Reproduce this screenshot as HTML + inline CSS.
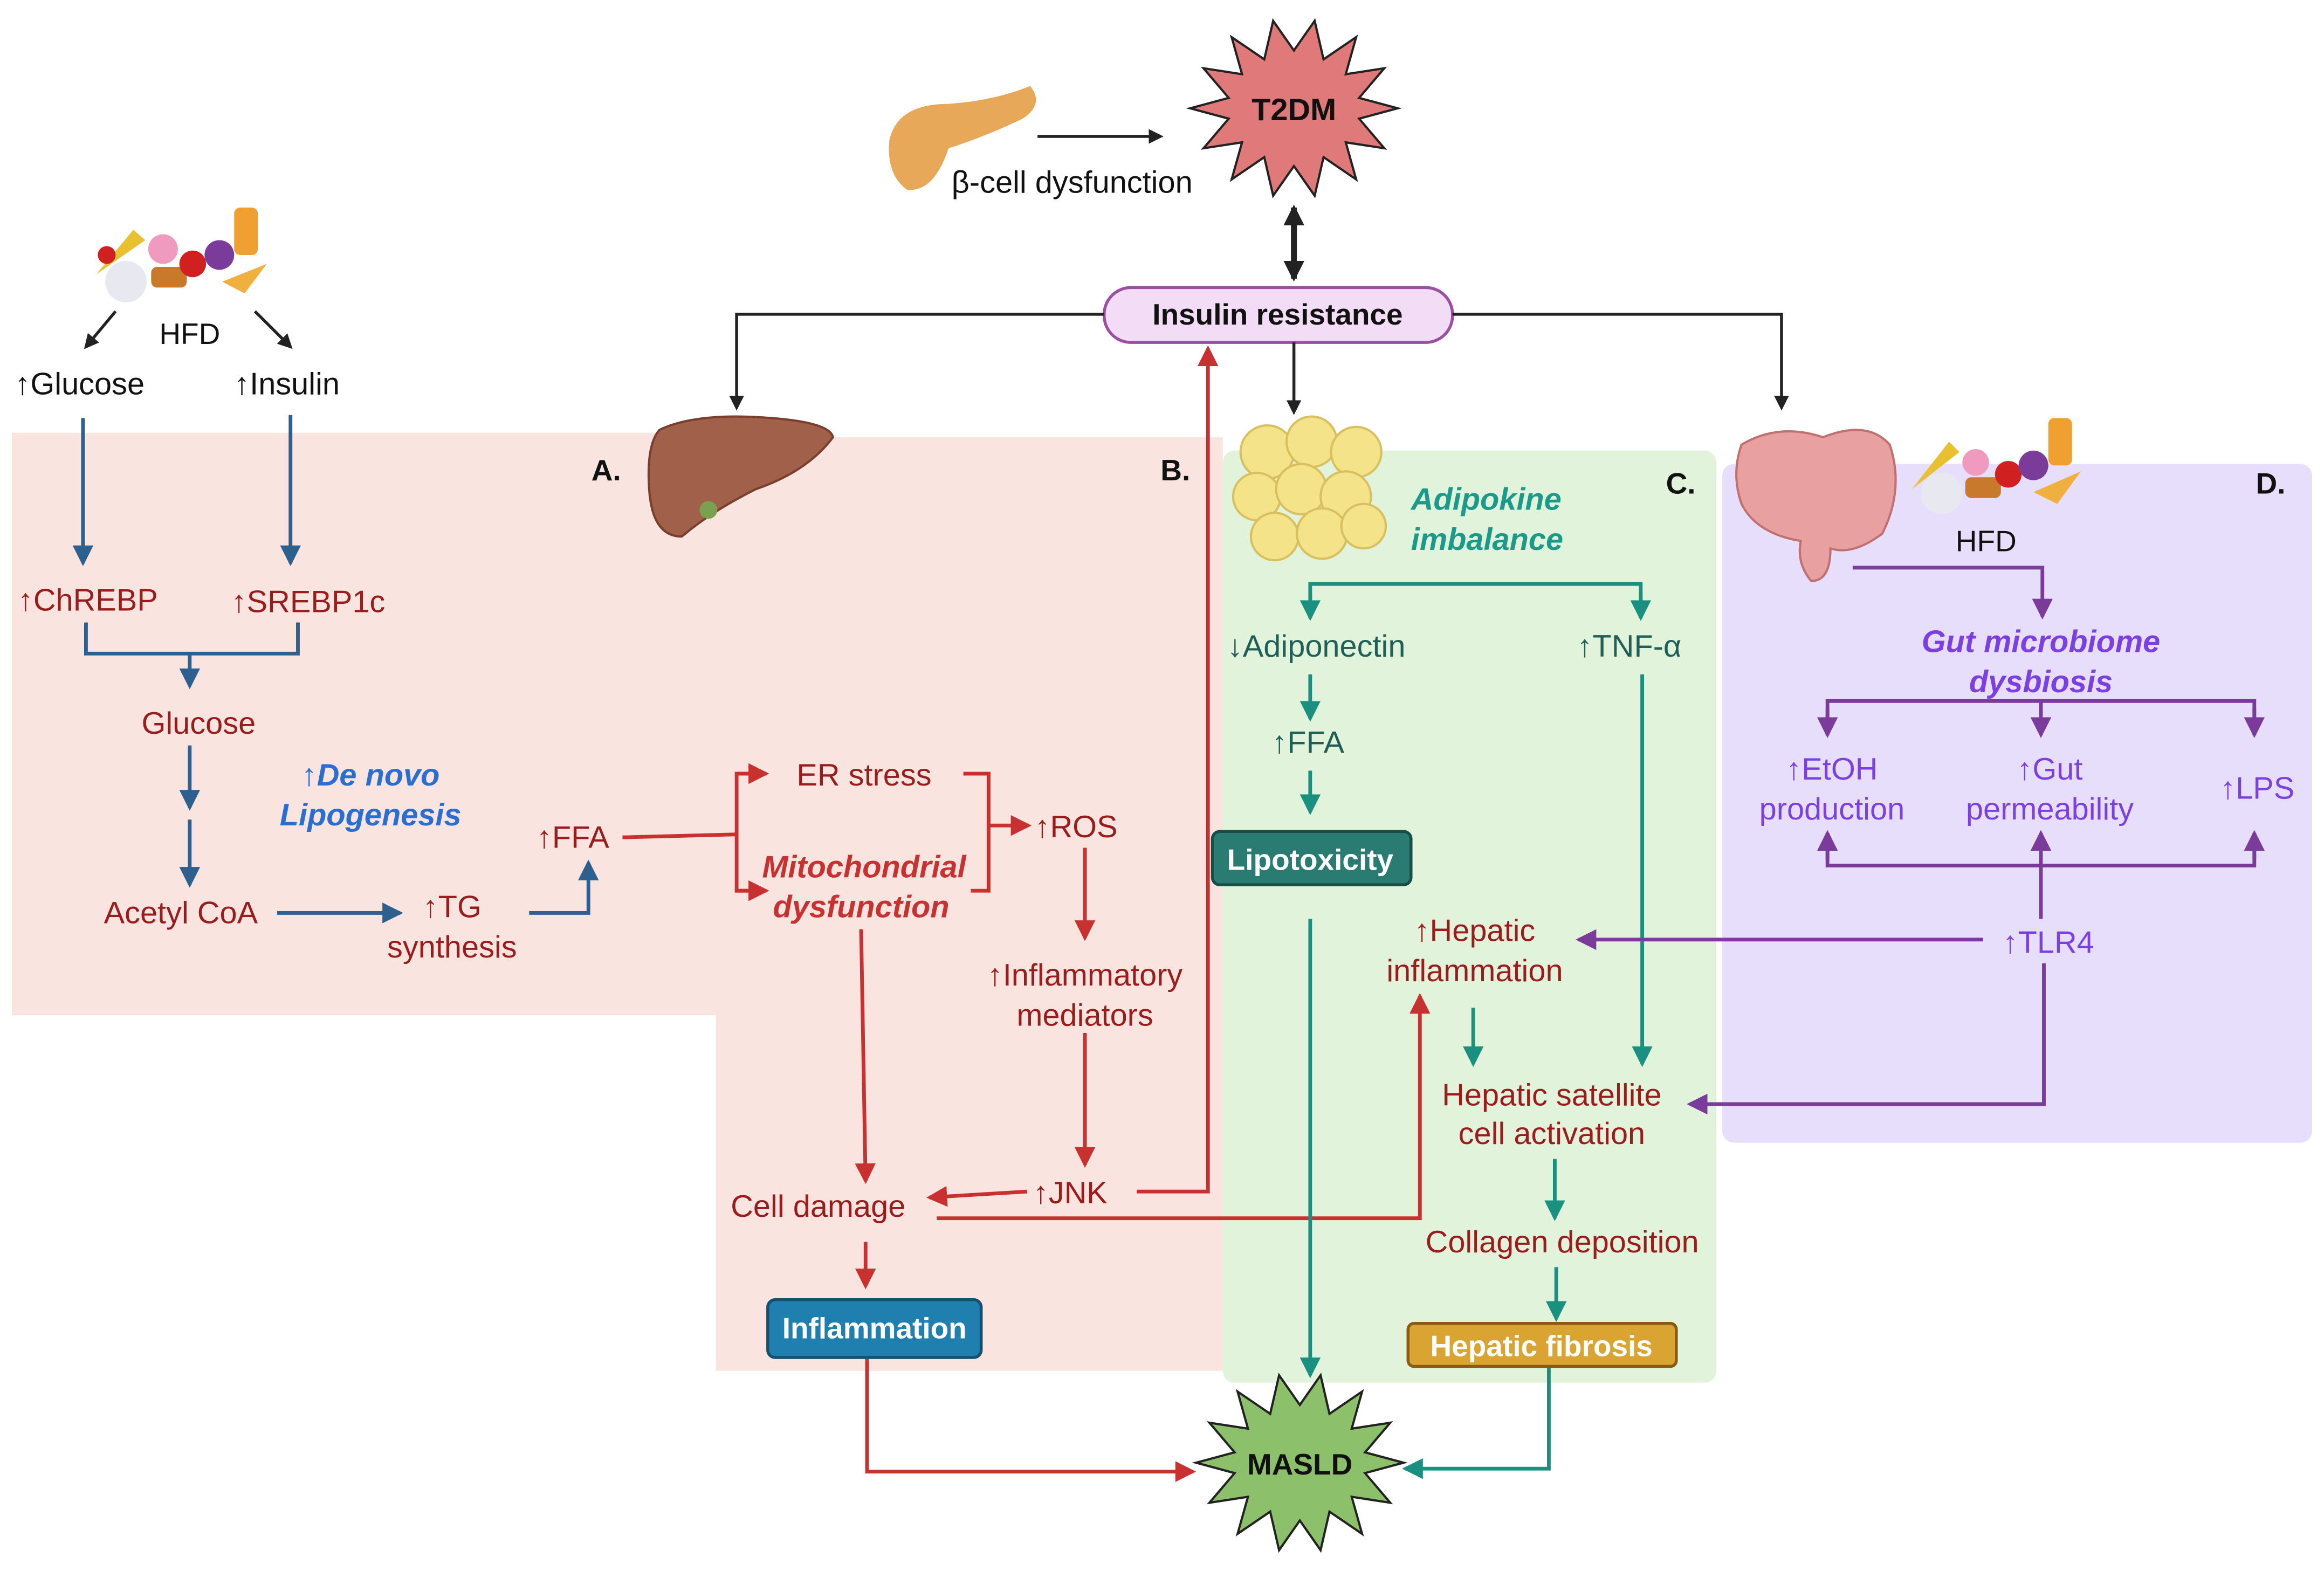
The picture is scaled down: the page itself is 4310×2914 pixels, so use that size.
<!DOCTYPE html>
<html><head><meta charset="utf-8"><style>
html,body{margin:0;padding:0;background:#fff;}
svg{display:block;}
text{font-family:"Liberation Sans",sans-serif;}
</style></head><body>
<svg width="4310" height="2914" viewBox="0 0 1568 1060" xmlns="http://www.w3.org/2000/svg">
<defs>
<marker id="ak" markerWidth="10" markerHeight="10" refX="8" refY="5" orient="auto" markerUnits="userSpaceOnUse"><path d="M0,0 L10,5 L0,10 z" fill="#222"/></marker>
<marker id="ab" markerWidth="14" markerHeight="14" refX="12" refY="7" orient="auto" markerUnits="userSpaceOnUse"><path d="M0,0 L14,7 L0,14 z" fill="#2d5f8f"/></marker>
<marker id="ar" markerWidth="14" markerHeight="14" refX="12" refY="7" orient="auto" markerUnits="userSpaceOnUse"><path d="M0,0 L14,7 L0,14 z" fill="#c93030"/></marker>
<marker id="at" markerWidth="14" markerHeight="14" refX="12" refY="7" orient="auto" markerUnits="userSpaceOnUse"><path d="M0,0 L14,7 L0,14 z" fill="#1a9080"/></marker>
<marker id="ap" markerWidth="14" markerHeight="14" refX="12" refY="7" orient="auto" markerUnits="userSpaceOnUse"><path d="M0,0 L14,7 L0,14 z" fill="#7a3b9a"/></marker>
<marker id="aK" markerWidth="14" markerHeight="14" refX="12" refY="7" orient="auto-start-reverse" markerUnits="userSpaceOnUse"><path d="M0,0 L14,7 L0,14 z" fill="#222"/></marker>
</defs>
<rect width="1568" height="1060" fill="#fff"/>
<!-- panels -->
<rect x="8" y="292" width="476" height="393" fill="#f9e4df"/>
<rect x="483" y="295" width="342" height="630" fill="#f9e4df"/>
<rect x="825" y="304" width="333" height="629" rx="8" fill="#e2f3dc"/>
<rect x="1162" y="313" width="398" height="458" rx="8" fill="#e6defa"/>
<g font-weight="bold" font-size="20" fill="#111">
<text x="399" y="324">A.</text><text x="783" y="324">B.</text><text x="1124" y="333">C.</text><text x="1522" y="333">D.</text>
</g>
<!-- T2DM star -->
<polygon fill="#e07a7a" stroke="#222" stroke-width="1.5" points="
943,73 917,80 934,100 908,96 915,121 893,106 887,132 873,112 859,132 853,106 831,121 838,96 812,100 829,80 803,73 829,66 812,46 838,50 831,25 853,40 859,14 873,34 887,14 893,40 915,25 908,50 934,46 917,66"/>
<text x="873" y="81" font-size="21" font-weight="bold" text-anchor="middle" fill="#111">T2DM</text>
<!-- MASLD star -->
<polygon fill="#8cc06b" stroke="#222" stroke-width="1.5" points="
947,987 921,994 938,1014 912,1010 919,1035 897,1020 891,1046 877,1026 863,1046 857,1020 835,1035 842,1010 816,1014 833,994 807,987 833,980 816,960 842,964 835,939 857,954 863,928 877,948 891,928 897,954 919,939 912,964 938,960 921,980"/>
<text x="877" y="995" font-size="20" font-weight="bold" text-anchor="middle" fill="#111">MASLD</text>
<!-- pancreas -->
<path d="M600,95 Q605,70 640,70 Q670,68 695,58 Q705,70 690,80 Q665,92 640,100 Q630,130 612,128 Q598,118 600,95z" fill="#e8a85a"/>
<line x1="700" y1="92" x2="783" y2="92" stroke="#222" stroke-width="2" marker-end="url(#ak)"/>
<text x="642" y="130" font-size="21" fill="#111">β-cell dysfunction</text>
<line x1="873" y1="140" x2="873" y2="188" stroke="#222" stroke-width="4" marker-start="url(#aK)" marker-end="url(#aK)"/>
<!-- insulin resistance -->
<rect x="745" y="194" width="235" height="37" rx="18" fill="#f3dcf5" stroke="#9b4fa0" stroke-width="2"/>
<text x="862" y="219" font-size="20" font-weight="bold" text-anchor="middle" fill="#111">Insulin resistance</text>
<polyline points="745,212 497,212 497,275" fill="none" stroke="#222" stroke-width="2" marker-end="url(#ak)"/>
<polyline points="980,212 1202,212 1202,275" fill="none" stroke="#222" stroke-width="2" marker-end="url(#ak)"/>
<line x1="873" y1="231" x2="873" y2="278" stroke="#222" stroke-width="2" marker-end="url(#ak)"/>
<!-- HFD food left -->
<g>
<circle cx="85" cy="190" r="14" fill="#e8e8f0"/><circle cx="110" cy="168" r="10" fill="#f09ac0"/><rect x="102" y="180" width="24" height="14" rx="4" fill="#c8792a"/>
<circle cx="130" cy="178" r="9" fill="#d02020"/><circle cx="148" cy="172" r="10" fill="#7a3b9a"/><path d="M150,190 L180,178 L165,198z" fill="#f0b040"/>
<rect x="158" y="140" width="16" height="32" rx="4" fill="#f0a030"/><path d="M65,185 L90,155 L98,162z" fill="#e8c030"/><circle cx="72" cy="172" r="6" fill="#d02020"/>
</g>
<line x1="78" y1="210" x2="58" y2="234" stroke="#222" stroke-width="2" marker-end="url(#ak)"/>
<line x1="172" y1="210" x2="196" y2="234" stroke="#222" stroke-width="2" marker-end="url(#ak)"/>
<text x="128" y="232" font-size="20" text-anchor="middle" fill="#111">HFD</text>
<text x="10" y="266" font-size="21" fill="#111">↑Glucose</text>
<text x="158" y="266" font-size="21" fill="#111">↑Insulin</text>
<!-- Panel A arrows -->
<g stroke="#2d5f8f" stroke-width="2.5" fill="none">
<line x1="56" y1="282" x2="56" y2="380" marker-end="url(#ab)"/>
<line x1="196" y1="280" x2="196" y2="380" marker-end="url(#ab)"/>
<polyline points="58,420 58,441 201,441 201,420"/>
<line x1="128" y1="441" x2="128" y2="463" marker-end="url(#ab)"/>
<line x1="128" y1="503" x2="128" y2="545" marker-end="url(#ab)"/>
<line x1="128" y1="553" x2="128" y2="597" marker-end="url(#ab)"/>
<line x1="187" y1="616" x2="270" y2="616" marker-end="url(#ab)"/>
<polyline points="357,616 397,616 397,582" marker-end="url(#ab)"/>
</g>
<g font-size="21" fill="#9b1c1c">
<text x="12" y="412">↑ChREBP</text>
<text x="156" y="413">↑SREBP1c</text>
<text x="134" y="495" text-anchor="middle">Glucose</text>
<text x="122" y="623" text-anchor="middle">Acetyl CoA</text>
<text x="305" y="619" text-anchor="middle">↑TG</text>
<text x="305" y="646" text-anchor="middle">synthesis</text>
<text x="362" y="572">↑FFA</text>
</g>
<g font-size="21" font-weight="bold" font-style="italic" fill="#2a6fd0" text-anchor="middle">
<text x="250" y="530">↑De novo</text><text x="250" y="557">Lipogenesis</text>
</g>
<!-- liver -->
<path d="M445,290 Q470,278 520,282 Q560,285 562,295 Q545,318 510,330 Q480,345 460,362 Q440,362 438,330 Q436,300 445,290z" fill="#a0604a" stroke="#7a3e2e" stroke-width="1.5"/>
<circle cx="478" cy="344" r="6" fill="#7aa050"/>
<!-- Panel B -->
<g stroke="#c93030" stroke-width="2.5" fill="none">
<line x1="420" y1="565" x2="497" y2="563"/>
<polyline points="517,522 497,522 497,601 517,601"/>
<line x1="497" y1="522" x2="517" y2="522" marker-end="url(#ar)"/>
<line x1="497" y1="601" x2="517" y2="601" marker-end="url(#ar)"/>
<polyline points="650,522 667,522 667,601 655,601"/>
<line x1="667" y1="557" x2="694" y2="557" marker-end="url(#ar)"/>
<line x1="732" y1="572" x2="732" y2="633" marker-end="url(#ar)"/>
<line x1="732" y1="697" x2="732" y2="786" marker-end="url(#ar)"/>
<line x1="693" y1="804" x2="627" y2="808" marker-end="url(#ar)"/>
<line x1="581" y1="627" x2="584" y2="797" marker-end="url(#ar)"/>
<polyline points="767,804 815,804 815,235" marker-end="url(#ar)"/>
<polyline points="632,822 958,822 958,672" marker-end="url(#ar)"/>
<line x1="584" y1="838" x2="584" y2="868" marker-end="url(#ar)"/>
<polyline points="585,917 585,993 805,993" marker-end="url(#ar)"/>
</g>
<g font-size="21" fill="#9b1c1c">
<text x="583" y="530" text-anchor="middle">ER stress</text>
<text x="698" y="565">↑ROS</text>
<text x="732" y="665" text-anchor="middle">↑Inflammatory</text>
<text x="732" y="692" text-anchor="middle">mediators</text>
<text x="697" y="812">↑JNK</text>
<text x="552" y="821" text-anchor="middle">Cell damage</text>
</g>
<g font-size="21" font-weight="bold" font-style="italic" fill="#c93030" text-anchor="middle">
<text x="583" y="592">Mitochondrial</text><text x="581" y="619">dysfunction</text>
</g>
<rect x="518" y="877" width="144" height="39" rx="5" fill="#1f7fae" stroke="#17506e" stroke-width="2"/>
<text x="590" y="903" font-size="20" font-weight="bold" fill="#fff" text-anchor="middle">Inflammation</text>
<!-- fat cells -->
<g fill="#f5e38a" stroke="#d8c060" stroke-width="1.5">
<circle cx="855" cy="305" r="18"/><circle cx="885" cy="298" r="17"/><circle cx="915" cy="305" r="17"/><circle cx="848" cy="335" r="16"/>
<circle cx="878" cy="330" r="17"/><circle cx="908" cy="335" r="17"/><circle cx="860" cy="362" r="16"/><circle cx="892" cy="360" r="17"/><circle cx="920" cy="355" r="15"/>
</g>
<g font-size="21" font-weight="bold" font-style="italic" fill="#1a9a8a">
<text x="952" y="344">Adipokine</text><text x="952" y="371">imbalance</text>
</g>
<!-- Panel C -->
<g stroke="#1a9080" stroke-width="2.5" fill="none">
<polyline points="884,417 884,394 1107,394 1107,417"/>
<line x1="884" y1="400" x2="884" y2="417" marker-end="url(#at)"/>
<line x1="1107" y1="400" x2="1107" y2="417" marker-end="url(#at)"/>
<line x1="884" y1="455" x2="884" y2="485" marker-end="url(#at)"/>
<line x1="884" y1="520" x2="884" y2="548" marker-end="url(#at)"/>
<line x1="884" y1="620" x2="884" y2="928" marker-end="url(#at)"/>
<line x1="1108" y1="455" x2="1108" y2="718" marker-end="url(#at)"/>
<line x1="994" y1="680" x2="994" y2="718" marker-end="url(#at)"/>
<line x1="1049" y1="782" x2="1049" y2="822" marker-end="url(#at)"/>
<line x1="1050" y1="855" x2="1050" y2="890" marker-end="url(#at)"/>
<polyline points="1045,922 1045,991 948,991" marker-end="url(#at)"/>
</g>
<g font-size="21" fill="#1f5f58">
<text x="828" y="443">↓Adiponectin</text>
<text x="1064" y="443">↑TNF-α</text>
<text x="858" y="508">↑FFA</text>
</g>
<rect x="818" y="561" width="134" height="36" rx="5" fill="#2a7c72" stroke="#184e48" stroke-width="2"/>
<text x="884" y="587" font-size="20" font-weight="bold" fill="#fff" text-anchor="middle">Lipotoxicity</text>
<g font-size="21" fill="#9b1c1c" text-anchor="middle">
<text x="995" y="635">↑Hepatic</text><text x="995" y="662">inflammation</text>
<text x="1047" y="746">Hepatic satellite</text><text x="1047" y="772">cell activation</text>
<text x="1054" y="845">Collagen deposition</text>
</g>
<rect x="950" y="893" width="181" height="29" rx="4" fill="#d9a431" stroke="#8a5a10" stroke-width="2"/>
<text x="1040" y="915" font-size="20" font-weight="bold" fill="#fff" text-anchor="middle">Hepatic fibrosis</text>
<!-- intestine -->
<path d="M1175,300 Q1200,285 1230,295 Q1260,283 1275,300 Q1285,330 1270,360 Q1250,375 1235,370 Q1235,392 1222,392 Q1212,380 1215,365 Q1185,360 1175,340 Q1168,320 1175,300z" fill="#e8a0a0" stroke="#c07070" stroke-width="1.5"/>
<g>
<circle cx="1310" cy="333" r="14" fill="#e8e8f0"/><circle cx="1333" cy="312" r="9" fill="#f09ac0"/><rect x="1326" y="322" width="24" height="14" rx="4" fill="#c8792a"/>
<circle cx="1355" cy="320" r="9" fill="#d02020"/><circle cx="1372" cy="314" r="10" fill="#7a3b9a"/><path d="M1372,332 L1404,318 L1388,340z" fill="#f0b040"/>
<rect x="1382" y="282" width="16" height="32" rx="4" fill="#f0a030"/><path d="M1290,330 L1315,298 L1322,305z" fill="#e8c030"/>
</g>
<text x="1340" y="372" font-size="20" text-anchor="middle" fill="#111">HFD</text>
<!-- Panel D -->
<g stroke="#7a3b9a" stroke-width="2.5" fill="none">
<polyline points="1250,383 1378,383 1378,416" marker-end="url(#ap)"/>
<polyline points="1233,496 1233,473 1521,473 1521,496"/>
<line x1="1233" y1="478" x2="1233" y2="496" marker-end="url(#ap)"/>
<line x1="1377" y1="473" x2="1377" y2="496" marker-end="url(#ap)"/>
<line x1="1521" y1="478" x2="1521" y2="496" marker-end="url(#ap)"/>
<polyline points="1233,562 1233,584 1521,584 1521,562"/>
<line x1="1233" y1="580" x2="1233" y2="562" marker-end="url(#ap)"/>
<line x1="1377" y1="584" x2="1377" y2="562" marker-end="url(#ap)"/>
<line x1="1521" y1="580" x2="1521" y2="562" marker-end="url(#ap)"/>
<line x1="1377" y1="584" x2="1377" y2="620"/>
<line x1="1338" y1="634" x2="1065" y2="634" marker-end="url(#ap)"/>
<polyline points="1379,650 1379,745 1140,745" marker-end="url(#ap)"/>
</g>
<g font-size="21" font-weight="bold" font-style="italic" fill="#7b3fe4" text-anchor="middle">
<text x="1377" y="440">Gut microbiome</text><text x="1377" y="467">dysbiosis</text>
</g>
<g font-size="21" fill="#7b3fe4" text-anchor="middle">
<text x="1236" y="526">↑EtOH</text><text x="1236" y="553">production</text>
<text x="1383" y="526">↑Gut</text><text x="1383" y="553">permeability</text>
<text x="1523" y="539">↑LPS</text>
<text x="1382" y="643">↑TLR4</text>
</g>
</svg>
</body></html>
